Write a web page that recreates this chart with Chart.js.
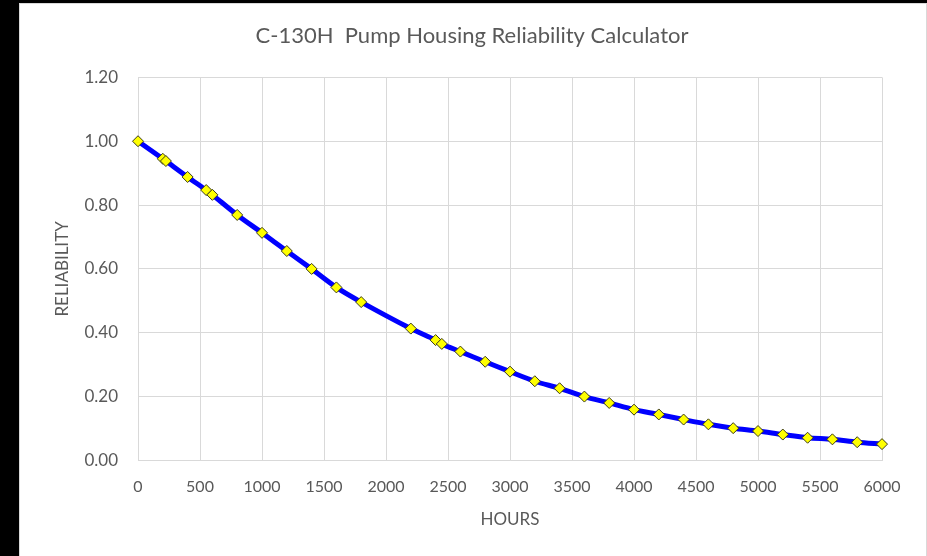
<!DOCTYPE html>
<html lang="en">
<head>
    <meta charset="UTF-8">
    <title>C-130H Pump Housing Reliability Calculator</title>
    <script src="https://cdn.jsdelivr.net/npm/chart.js"></script>
    <style>
        body {
            margin: 0;
            background: #000;
            width: 927px;
            height: 556px;
            overflow: hidden;
        }

        #box {
            position: absolute;
            left: 19px;
            top: 3px;
            width: 906px;
            height: 553px;
            background: #fff;
            border: 1px solid #d9d9d9;
            border-bottom: none;
        }
    </style>
</head>

<body>
    <div id="box"><canvas id="chart" width="906" height="553"></canvas></div>

    <script>
        // hours of operation and reliability
        const hours = [0, 200, 225, 400, 550, 600, 800, 1000, 1200, 1400, 1600, 1800,
            2200, 2400, 2450, 2600, 2800, 3000, 3200, 3400, 3600, 3800, 4000,
            4200, 4400, 4600, 4800, 5000, 5200, 5400, 5600, 5800, 6000];
        const reliability = [1.00, 0.945, 0.938, 0.888, 0.847, 0.832, 0.769, 0.713, 0.656, 0.600, 0.542, 0.496,
            0.413, 0.377, 0.365, 0.341, 0.309, 0.278, 0.248, 0.226, 0.200, 0.180, 0.159,
            0.144, 0.128, 0.113, 0.101, 0.092, 0.081, 0.071, 0.066, 0.057, 0.051];

        const points = hours.map((h, i) => ({ x: h, y: reliability[i] }));
        const textColor = '#595959';
        const gridColor = '#d9d9d9';

        new Chart(document.getElementById('chart'), {
            type: 'line',
            data: {
                datasets: [{
                    data: points,
                    clip: false,
                    borderColor: '#0000ff',
                    borderWidth: 5,
                    tension: 0.3,
                    pointStyle: 'rectRot',
                    pointRadius: 5.5,
                    pointBackgroundColor: '#ffff00',
                    pointBorderColor: '#3a3a1a',
                    pointBorderWidth: 1
                }]
            },
            options: {
                responsive: false,
                animation: false,
                layout: { padding: { left: 42, right: 44, top: 0, bottom: 27 } },
                plugins: {
                    legend: { display: false },
                    tooltip: { enabled: false },
                    title: {
                        display: true,
                        text: 'C-130H  Pump Housing Reliability Calculator',
                        color: textColor,
                        font: { family: 'Lato', size: 22, weight: 'normal' },
                        padding: { top: 19, bottom: 28 }
                    }
                },
                scales: {
                    x: {
                        type: 'linear',
                        min: 0,
                        max: 6000,
                        ticks: {
                            stepSize: 500,
                            color: textColor,
                            padding: 17,
                            font: { family: 'Lato', size: 16 },
                            callback: v => String(v)
                        },
                        grid: { color: gridColor, drawTicks: false },
                        border: { color: gridColor },
                        title: {
                            display: true,
                            text: 'HOURS',
                            color: textColor,
                            font: { family: 'Lato', size: 17 },
                            padding: { top: -4, bottom: 0 }
                        }
                    },
                    y: {
                        min: 0,
                        max: 1.2,
                        ticks: {
                            stepSize: 0.2,
                            color: textColor,
                            padding: 20,
                            font: { family: 'Lato', size: 17 },
                            callback: v => v.toFixed(2)
                        },
                        grid: { color: gridColor, drawTicks: false },
                        border: { color: gridColor },
                        title: {
                            display: true,
                            text: 'RELIABILITY',
                            color: textColor,
                            font: { family: 'Lato', size: 17 },
                            padding: { top: -10, bottom: 0 }
                        },
                        afterFit: s => { s.width = 76; }
                    }
                }
            }
        });
    </script>
</body>

</html>
